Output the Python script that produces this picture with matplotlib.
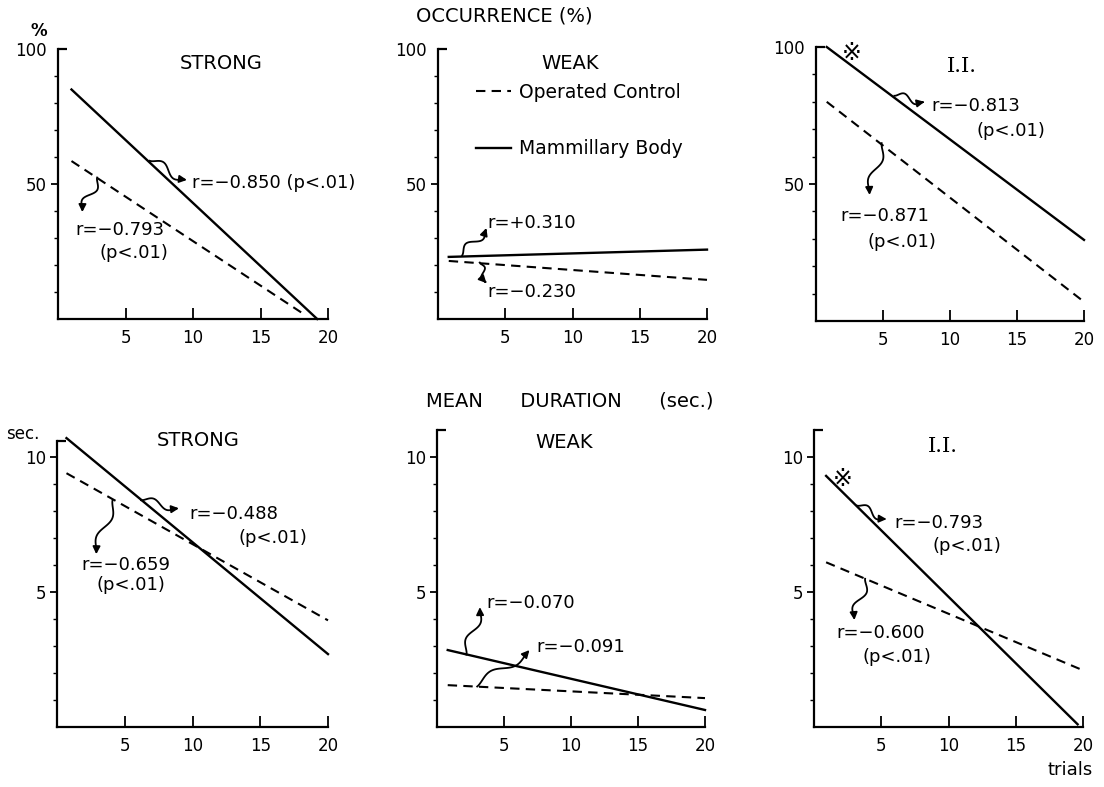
import numpy as np
import matplotlib
matplotlib.use("Agg")
import matplotlib.pyplot as plt

# ---------------- data (regression line end points) -------------
trials_ticks = [5, 10, 15, 20]

# Occurrence (%)
occ_strong_mb_x = [1.0, 19.2]; occ_strong_mb_y = [85.0, 0.0]
occ_strong_oc_x = [1.0, 18.3]; occ_strong_oc_y = [58.5, 1.5]
occ_weak_mb_x = [0.8, 20.0];   occ_weak_mb_y = [23.0, 25.7]
occ_weak_oc_x = [0.8, 20.0];   occ_weak_oc_y = [21.5, 14.5]
occ_ii_mb_x = [0.8, 20.0];     occ_ii_mb_y = [100.0, 29.6]
occ_ii_oc_x = [0.8, 20.0];     occ_ii_oc_y = [80.0, 7.0]

# Mean duration (sec.)
dur_strong_mb_x = [0.7, 20.0]; dur_strong_mb_y = [10.7, 2.7]
dur_strong_oc_x = [0.7, 20.0]; dur_strong_oc_y = [9.4, 3.95]
dur_weak_mb_x = [0.8, 20.0];   dur_weak_mb_y = [2.85, 0.63]
dur_weak_oc_x = [0.8, 20.0];   dur_weak_oc_y = [1.55, 1.07]
dur_ii_mb_x = [0.9, 19.6];     dur_ii_mb_y = [9.3, 0.1]
dur_ii_oc_x = [0.9, 20.0];     dur_ii_oc_y = [6.1, 2.1]

panel_titles = ["STRONG", "WEAK", "I.I.", "STRONG", "WEAK", "I.I."]
series_labels = ["Operated Control", "Mammillary Body"]

# ---------------------------------------------------------------------------------------
plt.rcParams["font.family"] = ["DejaVu Sans"]
W, H = 1104, 787
fig = plt.figure(figsize=(W / 100, H / 100), dpi=100)


def axbox(x0, x1, ytop, ybot):
    return [x0 / W, 1 - ybot / H, (x1 - x0) / W, (ybot - ytop) / H]


def style(ax, ymax, spine_top, major, minor):
    ax.set_xlim(0, 20)
    ax.set_ylim(0, ymax)
    for s in ["top", "right"]:
        ax.spines[s].set_visible(False)
    ax.spines["left"].set_bounds(0, spine_top)
    ax.spines["left"].set_linewidth(1.6)
    ax.spines["bottom"].set_linewidth(1.6)
    ax.set_xticks(trials_ticks)
    ax.tick_params(axis="x", direction="in", length=8, width=1.3, pad=7, labelsize=12)
    ax.set_yticks(major)
    ax.set_yticks(minor, minor=True)
    ax.tick_params(axis="y", which="major", direction="out", length=5, width=1.3,
                   pad=3, labelsize=12)
    ax.tick_params(axis="y", which="minor", direction="out", length=3, width=1.0)
    # the tick at the very top of the axis points inwards (corner mark)
    for val, tk in zip(major, ax.yaxis.get_major_ticks()):
        if val >= spine_top:
            tk.tick1line.set_visible(False)
    ax.plot([0, 0.035], [spine_top, spine_top], transform=ax.get_yaxis_transform(),
            color="k", lw=1.6, clip_on=False, solid_capstyle="butt")
    ax.patch.set_alpha(0)


def squiggle(ax, p0, p1, amp=6.0):
    P0 = ax.transData.transform(p0)
    P1 = ax.transData.transform(p1)
    d = P1 - P0
    L = np.hypot(*d)
    n = np.array([-d[1], d[0]]) / L
    t = np.linspace(0, 1, 80)
    env = np.sin(np.pi * t) ** 0.6
    pts = P0 + t[:, None] * d + (amp * env * np.sin(2 * np.pi * t))[:, None] * n
    pd = ax.transData.inverted().transform(pts)
    ax.plot(pd[:-6, 0], pd[:-6, 1], color="k", lw=1.3, clip_on=False)
    ax.annotate("", xy=tuple(pd[-1]), xytext=tuple(pd[-7]),
                arrowprops=dict(arrowstyle="-|>", color="k", lw=1.3,
                                mutation_scale=11, shrinkA=0, shrinkB=0),
                annotation_clip=False)


def lines(ax, mx, my, ox, oy):
    ax.plot(ox, oy, color="k", lw=1.5, ls=(0, (4.5, 3)), clip_on=False,
            label=series_labels[0])
    ax.plot(mx, my, color="k", lw=1.7, clip_on=False, label=series_labels[1])


TF = 13   # annotation font size
top_major, top_minor = [50, 100], [10, 20, 30, 40, 60, 70, 80, 90]
bot_major, bot_minor = [5, 10], [1, 2, 3, 4, 6, 7, 8, 9]
STAR = dict(ha="center", va="center", fontsize=17,
            family=["DejaVu Sans", "Noto Sans CJK JP"])

# ---------------- top row: occurrence ----------------
ax1 = fig.add_axes(axbox(58, 328, 49, 319))
style(ax1, 100, 100, top_major, top_minor)
lines(ax1, occ_strong_mb_x, occ_strong_mb_y, occ_strong_oc_x, occ_strong_oc_y)
ax1.text(12.1, 94.8, panel_titles[0], ha="center", va="center", fontsize=14)
ax1.text(-0.04, 1.065, "%", transform=ax1.transAxes, ha="right", va="center",
         fontsize=12, fontweight="bold")
ax1.text(9.9, 50.4, "r=\u22120.850 (p<.01)", ha="left", va="center", fontsize=TF)
ax1.text(1.26, 33.0, "r=\u22120.793", ha="left", va="center", fontsize=TF)
ax1.text(3.1, 24.4, "(p<.01)", ha="left", va="center", fontsize=TF)
squiggle(ax1, (6.8, 58.6), (9.55, 51.5))
squiggle(ax1, (2.9, 52.4), (1.8, 39.6))

ax2 = fig.add_axes(axbox(438, 707, 49, 319))
style(ax2, 100, 100, top_major, top_minor)
lines(ax2, occ_weak_mb_x, occ_weak_mb_y, occ_weak_oc_x, occ_weak_oc_y)
ax2.text(9.8, 94.8, panel_titles[1], ha="center", va="center", fontsize=14)
ax2.text(3.7, 35.6, "r=+0.310", ha="left", va="center", fontsize=TF)
ax2.text(3.7, 10.0, "r=\u22120.230", ha="left", va="center", fontsize=TF)
squiggle(ax2, (1.8, 23.6), (3.6, 33.7))
squiggle(ax2, (3.1, 20.9), (3.6, 13.3), amp=4)
ax2.legend(loc="upper left", bbox_to_anchor=(0.14, 0.875), frameon=False,
           fontsize=13.5, handlelength=1.9, handletextpad=0.4, labelspacing=2.0,
           borderpad=0, borderaxespad=0)

ax3 = fig.add_axes(axbox(816, 1084, 47, 321))
style(ax3, 100, 100, top_major, top_minor)
lines(ax3, occ_ii_mb_x, occ_ii_mb_y, occ_ii_oc_x, occ_ii_oc_y)
ax3.text(10.9, 93.0, panel_titles[2], ha="center", va="center", fontsize=15,
         family="DejaVu Serif")
ax3.text(2.7, 97.8, "\u203B", **STAR)
ax3.text(8.6, 78.5, "r=\u22120.813", ha="left", va="center", fontsize=TF)
ax3.text(12.0, 69.3, "(p<.01)", ha="left", va="center", fontsize=TF)
ax3.text(1.8, 38.5, "r=\u22120.871", ha="left", va="center", fontsize=TF)
ax3.text(3.85, 28.9, "(p<.01)", ha="left", va="center", fontsize=TF)
squiggle(ax3, (5.85, 82.2), (8.1, 80.0), amp=5)
squiggle(ax3, (4.9, 64.9), (4.0, 46.0))

# ---------------- bottom row: mean duration ----------------
ax4 = fig.add_axes(axbox(57, 328, 430, 727))
style(ax4, 11, 10.6, bot_major, bot_minor)
lines(ax4, dur_strong_mb_x, dur_strong_mb_y, dur_strong_oc_x, dur_strong_oc_y)
ax4.text(10.4, 10.6, panel_titles[3], ha="center", va="center", fontsize=14)
ax4.text(-0.065, 0.985, "sec.", transform=ax4.transAxes, ha="right", va="center",
         fontsize=12)
ax4.text(9.8, 7.9, "r=\u22120.488", ha="left", va="center", fontsize=TF)
ax4.text(13.4, 7.0, "(p<.01)", ha="left", va="center", fontsize=TF)
ax4.text(1.8, 6.0, "r=\u22120.659", ha="left", va="center", fontsize=TF)
ax4.text(2.9, 5.26, "(p<.01)", ha="left", va="center", fontsize=TF)
squiggle(ax4, (6.2, 8.4), (9.0, 8.1), amp=5)
squiggle(ax4, (4.1, 8.4), (2.9, 6.4))

ax5 = fig.add_axes(axbox(437, 705, 430, 727))
style(ax5, 11, 11, bot_major, bot_minor)
lines(ax5, dur_weak_mb_x, dur_weak_mb_y, dur_weak_oc_x, dur_weak_oc_y)
ax5.text(9.5, 10.55, panel_titles[4], ha="center", va="center", fontsize=14)
ax5.text(3.7, 4.6, "r=\u22120.070", ha="left", va="center", fontsize=TF)
ax5.text(7.4, 2.96, "r=\u22120.091", ha="left", va="center", fontsize=TF)
squiggle(ax5, (2.2, 2.68), (3.2, 4.44))
squiggle(ax5, (3.0, 1.5), (6.9, 2.85))

ax6 = fig.add_axes(axbox(814, 1083, 430, 727))
style(ax6, 11, 11, bot_major, bot_minor)
lines(ax6, dur_ii_mb_x, dur_ii_mb_y, dur_ii_oc_x, dur_ii_oc_y)
ax6.text(9.6, 10.4, panel_titles[5], ha="center", va="center", fontsize=15,
         family="DejaVu Serif")
ax6.text(2.1, 9.2, "\u203B", **STAR)
ax6.text(6.0, 7.55, "r=\u22120.793", ha="left", va="center", fontsize=TF)
ax6.text(8.8, 6.7, "(p<.01)", ha="left", va="center", fontsize=TF)
ax6.text(1.7, 3.5, "r=\u22120.600", ha="left", va="center", fontsize=TF)
ax6.text(3.6, 2.6, "(p<.01)", ha="left", va="center", fontsize=TF)
squiggle(ax6, (3.2, 8.2), (5.4, 7.7), amp=5)
squiggle(ax6, (3.8, 5.49), (3.0, 3.96))
ax6.text(1.035, -0.145, "trials", transform=ax6.transAxes, ha="right", va="center",
         fontsize=13)

# ---------------- section headings ----------------
fig.text(504 / W, 1 - 16 / H, "OCCURRENCE (%)", ha="center", va="center", fontsize=14)
fig.text(570 / W, 1 - 401 / H, "MEAN      DURATION      (sec.)", ha="center",
         va="center", fontsize=14)

fig.savefig("out.png", dpi=100)
